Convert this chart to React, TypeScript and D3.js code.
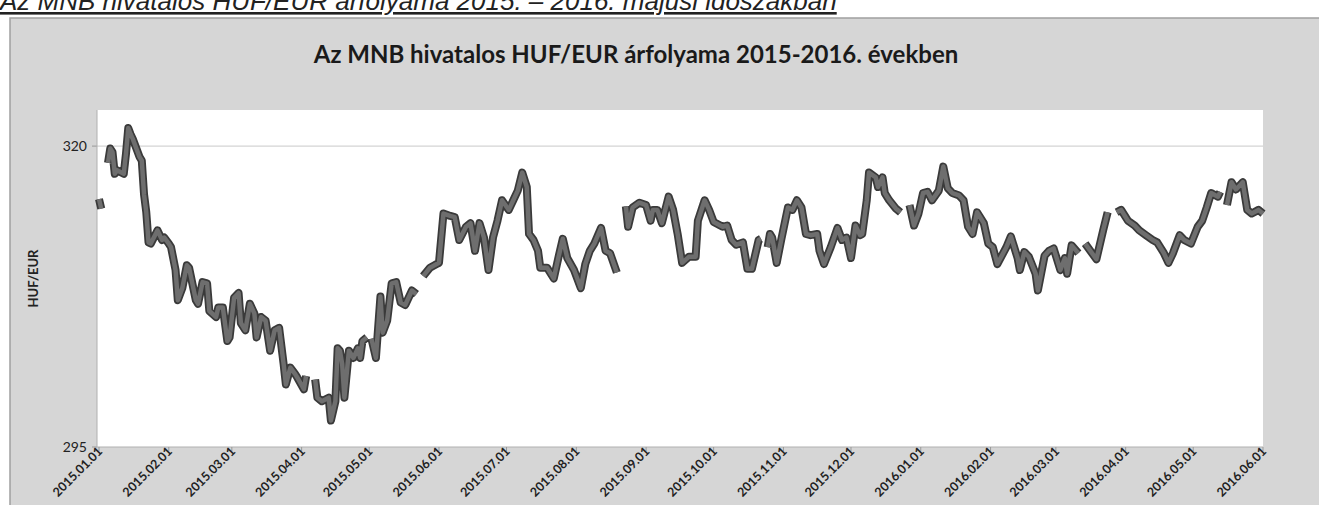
import React from 'react';
import * as d3 from 'd3';

// MNB HUF/EUR daily fixing (null = holiday gap)
const dates = [
  '2015-01-01', '2015-01-02', '2015-01-03', '2015-01-05', '2015-01-06', '2015-01-07', '2015-01-08', '2015-01-09',
  '2015-01-12', '2015-01-13', '2015-01-14', '2015-01-15', '2015-01-16', '2015-01-19', '2015-01-20', '2015-01-21',
  '2015-01-22', '2015-01-23', '2015-01-24', '2015-01-27', '2015-01-29', '2015-01-30', '2015-02-01', '2015-02-02',
  '2015-02-04', '2015-02-05', '2015-02-07', '2015-02-09', '2015-02-10', '2015-02-13', '2015-02-14', '2015-02-16',
  '2015-02-18', '2015-02-19', '2015-02-22', '2015-02-23', '2015-02-25', '2015-02-27', '2015-02-28', '2015-03-02',
  '2015-03-04', '2015-03-05', '2015-03-07', '2015-03-09', '2015-03-11', '2015-03-12', '2015-03-14', '2015-03-16',
  '2015-03-18', '2015-03-20', '2015-03-22', '2015-03-24', '2015-03-25', '2015-03-27', '2015-03-29', '2015-03-30',
  '2015-04-02', '2015-04-03', '2015-04-05', '2015-04-07', '2015-04-08', '2015-04-10', '2015-04-13', '2015-04-14',
  '2015-04-16', '2015-04-17', '2015-04-18', '2015-04-19', '2015-04-20', '2015-04-22', '2015-04-24', '2015-04-26',
  '2015-04-27', '2015-04-28', '2015-04-30', '2015-05-01', '2015-05-02', '2015-05-04', '2015-05-06', '2015-05-07',
  '2015-05-09', '2015-05-11', '2015-05-13', '2015-05-15', '2015-05-17', '2015-05-20', '2015-05-22', '2015-05-23',
  '2015-05-25', '2015-05-28', '2015-05-31', '2015-06-01', '2015-06-03', '2015-06-06', '2015-06-08', '2015-06-10',
  '2015-06-13', '2015-06-15', '2015-06-17', '2015-06-19', '2015-06-21', '2015-06-23', '2015-06-25', '2015-06-27',
  '2015-06-29', '2015-07-02', '2015-07-04', '2015-07-06', '2015-07-08', '2015-07-10', '2015-07-11', '2015-07-13',
  '2015-07-15', '2015-07-16', '2015-07-19', '2015-07-22', '2015-07-24', '2015-07-26', '2015-07-28', '2015-07-31',
  '2015-08-03', '2015-08-05', '2015-08-07', '2015-08-09', '2015-08-12', '2015-08-14', '2015-08-16', '2015-08-19',
  '2015-08-20', '2015-08-23', '2015-08-24', '2015-08-26', '2015-08-29', '2015-09-01', '2015-09-03', '2015-09-04',
  '2015-09-06', '2015-09-08', '2015-09-11', '2015-09-13', '2015-09-15', '2015-09-17', '2015-09-20', '2015-09-23',
  '2015-09-24', '2015-09-27', '2015-09-29', '2015-10-01', '2015-10-05', '2015-10-07', '2015-10-09', '2015-10-11',
  '2015-10-14', '2015-10-16', '2015-10-18', '2015-10-21', '2015-10-22', '2015-10-23', '2015-10-25', '2015-10-26',
  '2015-10-27', '2015-10-29', '2015-10-31', '2015-11-03', '2015-11-05', '2015-11-07', '2015-11-09', '2015-11-11',
  '2015-11-13', '2015-11-16', '2015-11-17', '2015-11-19', '2015-11-22', '2015-11-25', '2015-11-27', '2015-11-29',
  '2015-12-01', '2015-12-03', '2015-12-05', '2015-12-06', '2015-12-08', '2015-12-09', '2015-12-12', '2015-12-13',
  '2015-12-15', '2015-12-16', '2015-12-18', '2015-12-21', '2015-12-23', '2015-12-25', '2015-12-27', '2015-12-29',
  '2015-12-31', '2016-01-02', '2016-01-04', '2016-01-06', '2016-01-09', '2016-01-11', '2016-01-13', '2016-01-15',
  '2016-01-18', '2016-01-20', '2016-01-22', '2016-01-24', '2016-01-26', '2016-01-29', '2016-01-31', '2016-02-02',
  '2016-02-04', '2016-02-06', '2016-02-08', '2016-02-10', '2016-02-13', '2016-02-14', '2016-02-16', '2016-02-18',
  '2016-02-21', '2016-02-22', '2016-02-25', '2016-02-27', '2016-02-29', '2016-03-03', '2016-03-05', '2016-03-06',
  '2016-03-08', '2016-03-11', '2016-03-12', '2016-03-14', '2016-03-19', '2016-03-22', '2016-03-24', '2016-03-26',
  '2016-03-28', '2016-03-30', '2016-04-02', '2016-04-05', '2016-04-07', '2016-04-10', '2016-04-13', '2016-04-15',
  '2016-04-18', '2016-04-20', '2016-04-22', '2016-04-25', '2016-04-27', '2016-04-30', '2016-05-03', '2016-05-05',
  '2016-05-07', '2016-05-09', '2016-05-12', '2016-05-13', '2016-05-14', '2016-05-16', '2016-05-18', '2016-05-20',
  '2016-05-23', '2016-05-25', '2016-05-27', '2016-05-30', '2016-06-01'
];

const rates = [
  315.6, 314.8, null, 318.6, 319.8, 319.5, 317.7, 318.0,
  317.7, 319.4, 321.5, 321.0, 320.6, 319.1, 318.8, 316.0,
  314.5, 312.0, 311.9, 313.0, 312.2, 312.4, 311.9, 311.6,
  309.7, 307.2, 308.2, 310.1, 309.9, 307.2, 306.9, 308.7,
  308.6, 306.3, 305.8, 306.6, 306.6, 303.8, 304.1, 307.4,
  307.8, 305.3, 304.7, 306.9, 306.1, 304.1, 305.8, 305.5,
  303.0, 304.7, 304.9, 301.9, 300.2, 301.6, 301.1, 300.8,
  299.8, 300.9, null, 300.6, 299.1, 298.8, 299.1, 297.2,
  298.8, 303.2, 303.0, 301.9, 299.1, 303.0, 302.4, 303.2,
  302.4, 303.8, 304.1, null, 304.0, 302.4, 307.5, 304.5,
  305.5, 308.6, 308.7, 307.0, 306.8, 308.0, 307.7, null,
  309.2, 309.9, 310.2, 310.3, 314.4, 314.2, 314.1, 312.2,
  313.3, 313.6, 311.3, 313.6, 312.4, 309.7, 312.4, 313.8,
  315.5, 314.7, 315.5, 316.3, 317.8, 316.6, 312.7, 312.2,
  311.3, 309.9, 309.9, 309.0, 310.7, 312.3, 310.7, 309.7,
  308.2, 310.2, 311.3, 311.9, 313.2, 311.3, 311.1, 309.5,
  null, 315.0, 313.3, 314.9, 315.3, 315.1, 313.8, 314.7,
  314.7, 313.6, 315.8, 314.7, 312.7, 310.3, 310.8, 310.8,
  313.8, 315.5, 314.7, 313.7, 313.3, 313.4, 312.2, 311.8,
  312.0, 309.8, 309.8, 312.2, 312.3, null, 311.6, 312.7,
  312.4, 310.3, 312.2, 314.9, 314.7, 315.5, 314.9, 312.7,
  312.6, 312.7, 311.3, 310.2, 311.6, 313.2, 312.2, 312.4,
  310.7, 313.4, 312.6, 312.7, 315.5, 317.8, 317.4, 316.6,
  317.4, 316.1, 315.5, 314.8, 314.5, null, 315.1, 313.4,
  314.4, 316.1, 316.2, 315.5, 316.3, 318.3, 316.5, 316.1,
  315.9, 315.5, 313.3, 312.7, 314.5, 313.6, 311.9, 311.6,
  310.2, 310.9, 311.6, 312.5, 310.7, 309.7, 311.2, 310.8,
  309.4, 308.0, 310.9, 311.3, 311.5, 309.7, 310.7, 309.4,
  311.75, 311.1, null, 311.9, 310.6, 313.0, 314.5, null,
  314.5, 314.7, 313.8, 313.4, 313.0, 312.6, 312.2, 312.0,
  311.1, 310.3, 311.1, 312.6, 312.2, 311.9, 313.3, 313.8,
  314.9, 316.1, 315.8, 316.2, null, 315.1, 317.0, 316.4,
  317.0, 314.7, 314.4, 314.7, 314.4
];

const yTicks = [295, 320];
const caption = 'Az MNB hivatalos HUF/EUR árfolyama 2015. – 2016. májusi időszakban';
const title = 'Az MNB hivatalos HUF/EUR árfolyama 2015-2016. években';
const yTitle = 'HUF/EUR';

const W = 1319, H = 505;
const plot = { left: 97, right: 1263, top: 110, bottom: 447 };
const parse = d3.timeParse('%Y-%m-%d');
const fmt = d3.timeFormat('%Y.%m.%d');
const font = 'Lato, "Open Sans", sans-serif';

export default function App() {
  const points = dates.map((d, i) => ({ date: parse(d) as Date, value: rates[i] }));

  const x = d3.scaleTime()
    .domain([parse('2015-01-01') as Date, parse('2016-06-01') as Date])
    .range([plot.left + 2, plot.right]);
  const y = d3.scaleLinear().domain([295, 323]).range([plot.bottom, plot.top]);

  const line = d3.line<{ date: Date; value: number | null }>()
    .defined(d => d.value !== null)
    .x(d => x(d.date))
    .y(d => y(d.value as number));
  const path = line(points) || '';

  const xTicks = d3.timeMonth.range(parse('2015-01-01') as Date, parse('2016-06-02') as Date);

  return (
    <svg width={W} height={H} style={{ position: 'absolute', left: 0, top: 0 }}>
      <rect x={0} y={0} width={W} height={H} fill="#ffffff" />
      <text x={0} y={10} fontFamily='"Liberation Sans", Arial, sans-serif' fontStyle="italic"
        fontSize={26} fill="#222" textDecoration="underline">{caption}</text>

      {/* chart box */}
      <rect x={10} y={18} width={W + 20} height={H} fill="#d6d6d6" stroke="#a0a0a0" strokeWidth={1.5} />
      <text x={636} y={63} textAnchor="middle" fontFamily={font} fontWeight="bold" fontSize={24} fill="#1a1a1a">{title}</text>

      {/* plot area */}
      <rect x={plot.left} y={plot.top} width={plot.right - plot.left} height={plot.bottom - plot.top} fill="#ffffff" />
      {yTicks.map(t => (
        <g key={t}>
          {t !== 295 && <line x1={plot.left} x2={plot.right} y1={y(t)} y2={y(t)} stroke="#d4d4d4" strokeWidth={1.2} />}
          <line x1={plot.left - 5} x2={plot.left} y1={y(t)} y2={y(t)} stroke="#999" />
          <text x={plot.left - 10} y={y(t)} dy="0.35em" textAnchor="end" fontFamily={font} fontSize={14} fill="#222">{t}</text>
        </g>
      ))}
      <line x1={plot.left} x2={plot.left} y1={plot.top} y2={plot.bottom} stroke="#b0b0b0" />
      <line x1={plot.left} x2={plot.right} y1={plot.bottom} y2={plot.bottom} stroke="#b0b0b0" />
      <text transform={`translate(38,${(plot.top + plot.bottom) / 2}) rotate(-90)`} textAnchor="middle"
        fontFamily={font} fontWeight="bold" fontSize={13} fill="#222">{yTitle}</text>

      {xTicks.map(t => (
        <g key={t.getTime()}>
          <line x1={x(t)} x2={x(t)} y1={plot.bottom} y2={plot.bottom + 4} stroke="#999" />
          <text transform={`translate(${x(t) - 2},${plot.bottom - 1}) rotate(-45)`} textAnchor="end" dy="0.7em"
            fontFamily={font} fontWeight="bold" fontSize={12.5} fill="#222">{fmt(t)}</text>
        </g>
      ))}

      <path d={path} fill="none" stroke="#3a3a3a" strokeWidth={8} strokeLinejoin="round" />
      <path d={path} fill="none" stroke="#6e6e6e" strokeWidth={4.5} strokeLinejoin="round" />
    </svg>
  );
}
